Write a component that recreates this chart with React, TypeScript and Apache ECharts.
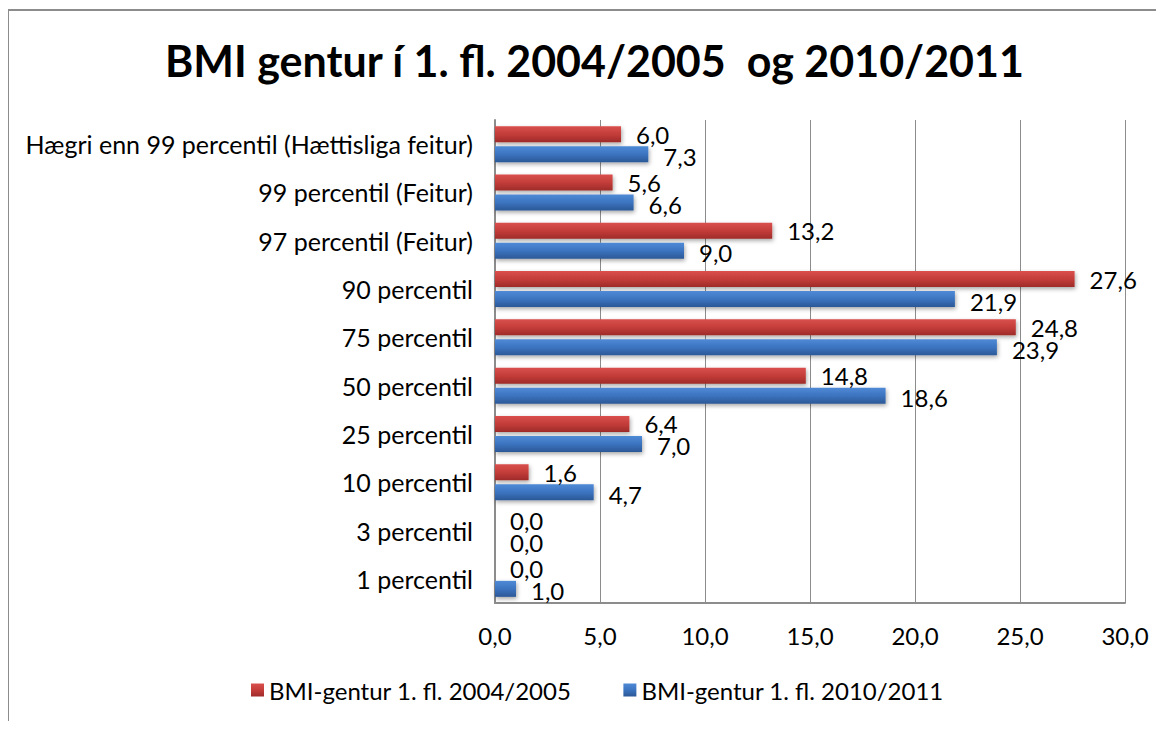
import React, { useEffect, useRef } from "react";
import * as echarts from "echarts";

const categories = [
  "1 percentil",
  "3 percentil",
  "10 percentil",
  "25 percentil",
  "50 percentil",
  "75 percentil",
  "90 percentil",
  "97 percentil (Feitur)",
  "99 percentil (Feitur)",
  "Hægri enn 99 percentil (Hættisliga feitur)",
];
const series2004 = [0.0, 0.0, 1.6, 6.4, 14.8, 24.8, 27.6, 13.2, 5.6, 6.0];
const series2010 = [1.0, 0.0, 4.7, 7.0, 18.6, 23.9, 21.9, 9.0, 6.6, 7.3];
const name2004 = "BMI-gentur 1. fl. 2004/2005";
const name2010 = "BMI-gentur 1. fl. 2010/2011";
const titleText = "BMI gentur í 1. fl. 2004/2005  og 2010/2011";

const FONT = "Lato, 'Liberation Sans', Arial, sans-serif";
const fmt = (v: number) => v.toFixed(1).replace(".", ",");

const redGrad = new echarts.graphic.LinearGradient(0, 0, 0, 1, [
  { offset: 0, color: "#d9504d" },
  { offset: 0.5, color: "#c43d3a" },
  { offset: 1, color: "#9e2b29" },
]);
const blueGrad = new echarts.graphic.LinearGradient(0, 0, 0, 1, [
  { offset: 0, color: "#4f8ad6" },
  { offset: 0.5, color: "#3c74c0" },
  { offset: 1, color: "#2b5896" },
]);

export default function App() {
  const ref = useRef<HTMLDivElement>(null);
  useEffect(() => {
    if (!ref.current) return;
    const chart = echarts.init(ref.current, null, { renderer: "svg" });
    const labelCommon = {
      show: true,
      position: "right" as const,
      distance: 15,
      color: "#000",
      fontSize: 24,
      fontFamily: FONT,
      formatter: (p: any) => fmt(p.value),
    };
    chart.setOption({
      animation: false,
      backgroundColor: "#fff",
      title: {
        text: titleText,
        left: 160,
        top: 34,
        textStyle: { fontSize: 43, fontWeight: "bold", fontFamily: FONT, color: "#000" },
      },
      graphic: [
        {
          type: "rect",
          shape: { x: 8, y: 10, width: 1200, height: 800 },
          style: { fill: "none", stroke: "#8c8c8c", lineWidth: 2 },
          silent: true,
        },
      ],
      legend: {
        data: [name2004, name2010],
        bottom: 22,
        left: 246,
        itemGap: 52,
        itemWidth: 13,
        itemHeight: 13,
        icon: "rect",
        textStyle: { fontSize: 24, fontFamily: FONT, color: "#000" },
      },
      grid: { left: 495, right: 39, top: 120, bottom: 126, containLabel: false },
      xAxis: {
        type: "value",
        min: 0,
        max: 30,
        interval: 5,
        axisLabel: {
          formatter: (v: number) => fmt(v),
          fontSize: 24,
          fontFamily: FONT,
          color: "#000",
          margin: 20,
        },
        axisLine: { show: true, lineStyle: { color: "#8c8c8c", width: 2 } },
        axisTick: { show: false },
        splitLine: { show: true, lineStyle: { color: "#8c8c8c", width: 1 } },
      },
      yAxis: {
        type: "category",
        data: categories,
        axisLabel: { fontSize: 25, fontFamily: FONT, color: "#000", margin: 22 },
        axisLine: { show: true, lineStyle: { color: "#8c8c8c", width: 2 } },
        axisTick: { show: false },
      },
      series: [
        {
          name: name2004,
          type: "bar",
          data: series2004,
          barWidth: 16,
          barGap: "25%",
          itemStyle: {
            color: redGrad,
            shadowColor: "rgba(0,0,0,0.35)",
            shadowBlur: 4,
            shadowOffsetX: 1,
            shadowOffsetY: 2,
          },
          label: { ...labelCommon, offset: [0, 0] },
        },
        {
          name: name2010,
          type: "bar",
          data: series2010,
          barWidth: 16,
          barGap: "25%",
          itemStyle: {
            color: blueGrad,
            shadowColor: "rgba(0,0,0,0.35)",
            shadowBlur: 4,
            shadowOffsetX: 1,
            shadowOffsetY: 2,
          },
          label: { ...labelCommon, offset: [0, 2] },
        },
      ],
    });
    return () => chart.dispose();
  }, []);
  return <div ref={ref} style={{ width: 1164, height: 729, margin: -8 }} />;
}
